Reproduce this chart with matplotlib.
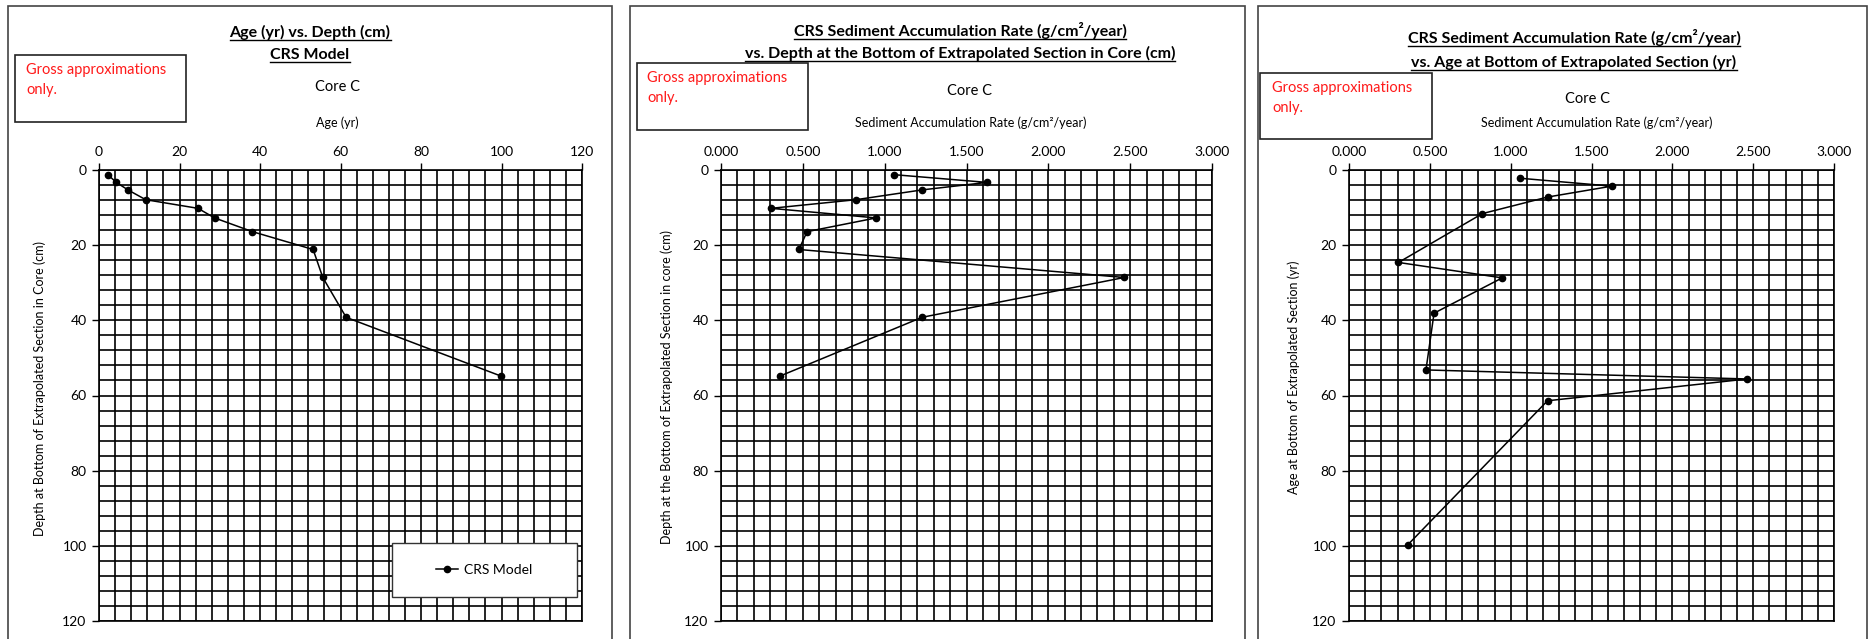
import numpy as np
import matplotlib
matplotlib.use("Agg")
import matplotlib.pyplot as plt
from matplotlib.patches import Rectangle
from matplotlib.lines import Line2D
from matplotlib.ticker import MultipleLocator, FormatStrFormatter

plt.rcParams['font.family'] = ['Lato', 'DejaVu Sans']

# Core C, CRS model
depth = [1.25, 3.3, 5.3, 7.9, 10.2, 12.75, 16.4, 21.15, 28.6, 39.2, 54.8]
age = [2.2, 4.3, 7.2, 11.6, 24.6, 28.7, 38.1, 53.2, 55.6, 61.4, 99.8]
rate = [1.06, 1.625, 1.228, 0.825, 0.306, 0.948, 0.526, 0.476, 2.464, 1.228, 0.362]

W, H = 1869, 639
fig = plt.figure(figsize=(W/100, H/100), dpi=100)

def fx(x):
    return x/W

def fy(y):
    return 1 - y/H

def make_axes(left, right, top=170, bottom=621):
    return fig.add_axes([fx(left), fy(bottom), (right-left)/W, (bottom-top)/H])

def style(ax, xmax, xmaj, xmin, fmt):
    ax.set_xlim(0, xmax)
    ax.set_ylim(120, 0)
    ax.xaxis.set_major_locator(MultipleLocator(xmaj))
    ax.xaxis.set_minor_locator(MultipleLocator(xmin))
    ax.yaxis.set_major_locator(MultipleLocator(20))
    ax.yaxis.set_minor_locator(MultipleLocator(4))
    ax.xaxis.set_major_formatter(FormatStrFormatter(fmt))
    ax.xaxis.tick_top()
    ax.tick_params(which='major', direction='out', length=5, width=1, labelsize=10, pad=4)
    ax.tick_params(which='minor', length=0)
    ax.grid(which='both', color='black', lw=1.2)
    for s in ax.spines.values():
        s.set_color('black')
        s.set_linewidth(1.2)

def panel_box(x0, x1):
    fig.patches.append(Rectangle((fx(x0), fy(660)), (x1-x0)/W, (660-6)/H,
                                 transform=fig.transFigure, fill=False,
                                 edgecolor='#444444', lw=1.2))

def red_note(x0, x1, y0, y1, tx, ty1, ty2):
    fig.patches.append(Rectangle((fx(x0), fy(y1)), (x1-x0)/W, (y1-y0)/H,
                                 transform=fig.transFigure, facecolor='white',
                                 edgecolor='#222222', lw=1.2, zorder=3))
    fig.text(fx(tx), fy(ty1), "Gross approximations", color='#ff1a1a',
             fontsize=10.5, va='center', ha='left', zorder=4)
    fig.text(fx(tx), fy(ty2), "only.", color='#ff1a1a',
             fontsize=10.5, va='center', ha='left', zorder=4)

titles = []

def title(x, y, s):
    t = fig.text(fx(x), fy(y), s, fontsize=11.5, fontweight='bold',
                 ha='center', va='baseline')
    titles.append((t, y))

# panel 1: age vs depth
panel_box(8, 612)
ax1 = make_axes(99, 582)
style(ax1, 120, 20, 4, '%d')
ax1.plot(age, depth, color='black', lw=1.1, marker='o', ms=4.5)
title(310, 37, "Age (yr) vs. Depth (cm)")
title(310, 59, "CRS Model")
fig.text(fx(337), fy(87), "Core C", fontsize=10.5, ha='center', va='center')
fig.text(fx(337), fy(123), "Age (yr)", fontsize=9, ha='center', va='center')
fig.text(fx(40), fy(388), "Depth at Bottom of Extrapolated Section in Core (cm)",
         fontsize=9, rotation=90, ha='center', va='center')
red_note(15, 186, 55, 122, 26, 70, 90)
fig.patches.append(Rectangle((fx(392), fy(597)), 185/W, 54/H,
                             transform=fig.transFigure, facecolor='white',
                             edgecolor='#333333', lw=1.0, zorder=3))
fig.legend(handles=[Line2D([], [], color='black', lw=1.1, marker='o', ms=4.5)],
           labels=['CRS Model'], loc='center', frameon=False, fontsize=10,
           handlelength=1.6, handletextpad=0.4, bbox_to_anchor=(fx(484), fy(570)))

# panel 2: rate vs depth
panel_box(630, 1245)
ax2 = make_axes(721, 1212)
style(ax2, 3.0, 0.5, 0.1, '%.3f')
ax2.plot(rate, depth, color='black', lw=1.1, marker='o', ms=4.5)
title(960, 36, "CRS Sediment Accumulation Rate (g/cm\u00b2/year)")
title(960, 58, "vs. Depth at the Bottom of Extrapolated Section in Core (cm)")
fig.text(fx(969), fy(91), "Core C", fontsize=10.5, ha='center', va='center')
fig.text(fx(971), fy(123), "Sediment Accumulation Rate (g/cm\u00b2/year)", fontsize=9,
         ha='center', va='center')
fig.text(fx(667), fy(387), "Depth at the Bottom of Extrapolated Section in core (cm)",
         fontsize=9, rotation=90, ha='center', va='center')
red_note(637, 808, 63, 130, 647, 78, 98)

# panel 3: rate vs age
panel_box(1258, 1867)
ax3 = make_axes(1349, 1834)
style(ax3, 3.0, 0.5, 0.1, '%.3f')
ax3.plot(rate, age, color='black', lw=1.1, marker='o', ms=4.5)
title(1574, 43, "CRS Sediment Accumulation Rate (g/cm\u00b2/year)")
title(1574, 67, "vs. Age at Bottom of Extrapolated Section (yr)")
fig.text(fx(1587), fy(99), "Core C", fontsize=10.5, ha='center', va='center')
fig.text(fx(1597), fy(123), "Sediment Accumulation Rate (g/cm\u00b2/year)", fontsize=9,
         ha='center', va='center')
fig.text(fx(1294), fy(377), "Age at Bottom of Extrapolated Section (yr)",
         fontsize=9, rotation=90, ha='center', va='center')
red_note(1260, 1432, 73, 139, 1272, 88, 108)

# underline the titles
fig.canvas.draw()
r = fig.canvas.get_renderer()
for t, y in titles:
    bb = t.get_window_extent(r)
    fig.add_artist(Line2D([bb.x0/W, bb.x1/W], [fy(y+2.5)]*2,
                          transform=fig.transFigure, color='black', lw=1.0))

fig.savefig("out.png", dpi=100)
